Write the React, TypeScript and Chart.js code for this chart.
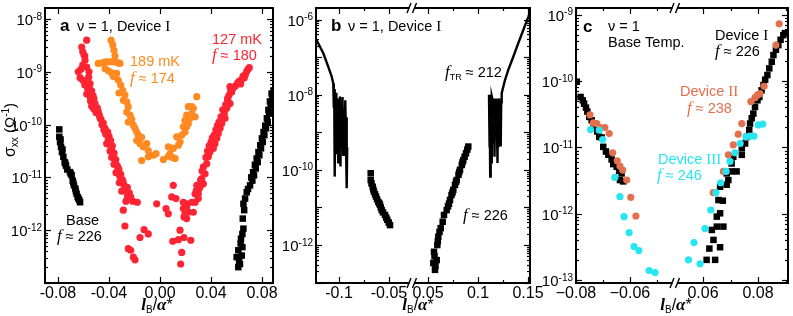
import React, { useEffect, useRef } from 'react';
import { Chart, registerables } from 'chart.js';

Chart.register(...registerables);

const SANS = '"Liberation Sans", Arial, Helvetica, sans-serif';
const SERIF = '"Liberation Serif", "Times New Roman", serif';

const RED = '#ff2433';
const ORANGE = '#ff8a22';
const SALMON = '#e2704f';
const CYAN = '#27e6f2';
const BLACK = '#000000';

// All series: [l_B/a*, log10(sigma_xx / Ohm^-1)]

// ---------- panel a ----------
const aBaseLeft = [
  [-0.0790, -10.09], [-0.0790, -10.23], [-0.0784, -10.33], [-0.0780, -10.28], [-0.0776, -10.42],
  [-0.0769, -10.52], [-0.0765, -10.47], [-0.0758, -10.61], [-0.0748, -10.71], [-0.0742, -10.74],
  [-0.0737, -10.78], [-0.0727, -10.85], [-0.0706, -10.90], [-0.0700, -10.93], [-0.0693, -10.96],
  [-0.0685, -11.06], [-0.0680, -11.10], [-0.0675, -11.15], [-0.0664, -11.21], [-0.0660, -11.26],
  [-0.0654, -11.31], [-0.0646, -11.37], [-0.0640, -11.40], [-0.0633, -11.43], [-0.0627, -11.47],
];
const aBaseRight = [
  [0.0614, -12.70], [0.0627, -12.64], [0.0601, -12.51], [0.0641, -12.48], [0.0614, -12.38],
  [0.0620, -12.58], [0.0646, -12.32], [0.0632, -12.25], [0.0635, -12.16], [0.0646, -12.07],
  [0.0654, -11.97], [0.0649, -11.78], [0.0660, -11.62], [0.0654, -11.50], [0.0667, -11.40],
  [0.0680, -11.28], [0.0690, -11.22], [0.0706, -11.15], [0.0724, -11.06], [0.0715, -11.00],
  [0.0737, -10.96], [0.0730, -10.90], [0.0751, -10.83], [0.0744, -10.76], [0.0766, -10.71],
  [0.0758, -10.64], [0.0779, -10.58], [0.0772, -10.52], [0.0792, -10.45], [0.0786, -10.39],
  [0.0806, -10.33], [0.0799, -10.26], [0.0818, -10.20], [0.0812, -10.14], [0.0831, -10.07],
  [0.0825, -10.02], [0.0845, -9.95], [0.0838, -9.88], [0.0855, -9.79], [0.0850, -9.72],
  [0.0868, -9.63], [0.0862, -9.56], [0.0881, -9.47], [0.0875, -9.41], [0.0892, -9.35],
];
const a127mK = [
  [-0.0575, -8.40], [-0.0614, -8.53], [-0.0606, -8.62], [-0.0596, -8.68], [-0.0590, -8.70],
  [-0.0588, -8.78], [-0.0606, -8.87], [-0.0575, -8.91], [-0.0620, -8.95], [-0.0557, -9.00],
  [-0.0641, -9.00], [-0.0627, -9.11], [-0.0560, -9.10], [-0.0606, -9.16], [-0.0575, -9.19],
  [-0.0549, -9.22], [-0.0590, -9.25], [-0.0555, -9.30], [-0.0567, -9.32], [-0.0536, -9.36],
  [-0.0575, -9.42], [-0.0525, -9.45], [-0.0549, -9.47], [-0.0518, -9.51], [-0.0545, -9.55],
  [-0.0510, -9.60], [-0.0536, -9.65], [-0.0492, -9.68], [-0.0520, -9.70], [-0.0485, -9.75],
  [-0.0502, -9.77], [-0.0476, -9.82], [-0.0470, -9.88], [-0.0463, -9.90], [-0.0445, -9.97],
  [-0.0455, -10.00], [-0.0431, -10.07], [-0.0440, -10.10], [-0.0410, -10.14], [-0.0425, -10.18],
  [-0.0400, -10.22], [-0.0405, -10.28], [-0.0387, -10.30], [-0.0418, -10.36], [-0.0395, -10.38],
  [-0.0374, -10.40], [-0.0380, -10.46], [-0.0392, -10.50], [-0.0361, -10.54], [-0.0370, -10.58],
  [-0.0379, -10.62], [-0.0347, -10.66], [-0.0350, -10.70], [-0.0361, -10.75], [-0.0335, -10.78],
  [-0.0330, -10.82], [-0.0322, -10.85], [-0.0345, -10.91], [-0.0308, -10.94], [-0.0315, -10.98],
  [-0.0296, -11.04], [-0.0290, -11.08], [-0.0319, -11.10], [-0.0282, -11.15], [-0.0256, -11.19],
  [-0.0275, -11.25], [-0.0300, -11.26], [-0.0241, -11.29], [-0.0255, -11.35], [-0.0230, -11.37],
  [-0.0267, -11.45], [-0.0214, -11.45], [-0.0178, -11.47], [-0.0288, -11.62], [-0.0275, -11.92],
  [-0.0125, -11.99], [-0.0157, -12.14], [-0.0092, -12.07], [-0.0249, -12.35], [-0.0230, -12.38],
  [-0.0209, -12.51], [-0.0196, -12.56], [-0.0026, -11.50],
  [0.0047, -11.59], [0.0065, -11.69], [0.0104, -11.15], [0.0092, -11.37], [0.0125, -11.40],
  [0.0157, -12.00], [0.0100, -12.21], [0.0144, -12.18], [0.0188, -12.14], [0.0241, -12.19],
  [0.0170, -12.42], [0.0162, -12.64], [0.0188, -11.75], [0.0209, -11.78], [0.0183, -11.59],
  [0.0183, -11.47], [0.0209, -11.50], [0.0196, -11.69], [0.0209, -11.56], [0.0222, -11.66],
  [0.0261, -11.66], [0.0249, -11.47], [0.0275, -11.47], [0.0275, -11.31], [0.0300, -11.31],
  [0.0300, -11.40], [0.0285, -11.25], [0.0314, -11.18], [0.0288, -11.15], [0.0340, -11.12],
  [0.0305, -11.22], [0.0318, -11.05], [0.0327, -11.02], [0.0353, -10.93], [0.0330, -10.88],
  [0.0340, -10.80], [0.0366, -10.74], [0.0379, -10.61], [0.0360, -10.62], [0.0392, -10.52],
  [0.0372, -10.50], [0.0418, -10.45], [0.0385, -10.40], [0.0431, -10.36], [0.0400, -10.33],
  [0.0445, -10.26], [0.0410, -10.25], [0.0425, -10.20], [0.0457, -10.17], [0.0438, -10.10],
  [0.0471, -10.07], [0.0450, -10.02], [0.0484, -9.98], [0.0462, -9.95], [0.0510, -9.88],
  [0.0478, -9.85], [0.0504, -9.79], [0.0492, -9.72], [0.0523, -9.69], [0.0515, -9.62],
  [0.0549, -9.60], [0.0531, -9.54], [0.0530, -9.50], [0.0541, -9.44], [0.0562, -9.38],
  [0.0555, -9.35], [0.0575, -9.30], [0.0549, -9.28], [0.0590, -9.27], [0.0609, -9.21],
  [0.0620, -9.18], [0.0632, -9.23], [0.0641, -9.14], [0.0661, -9.11], [0.0652, -9.08],
  [0.0670, -9.05], [0.0680, -8.99], [0.0690, -8.95], [0.0700, -8.92],
];
const a189mK = [
  [-0.0384, -8.40], [-0.0371, -8.49], [-0.0361, -8.59], [-0.0353, -8.70],
  [-0.0484, -8.84], [-0.0457, -8.83], [-0.0431, -8.81], [-0.0405, -8.81], [-0.0379, -8.81],
  [-0.0353, -8.81], [-0.0327, -8.83], [-0.0314, -8.84],
  [-0.0431, -8.94], [-0.0405, -8.98], [-0.0379, -9.02], [-0.0340, -9.03], [-0.0366, -9.09],
  [-0.0327, -9.16], [-0.0308, -9.25], [-0.0292, -9.35], [-0.0322, -9.40], [-0.0275, -9.44],
  [-0.0288, -9.54], [-0.0261, -9.57], [-0.0249, -9.66], [-0.0261, -9.76], [-0.0235, -9.82],
  [-0.0222, -9.90], [-0.0249, -9.95], [-0.0209, -10.01], [-0.0196, -10.07], [-0.0183, -10.14],
  [-0.0170, -10.20], [-0.0183, -10.30], [-0.0144, -10.24], [-0.0157, -10.36], [-0.0131, -10.42],
  [-0.0104, -10.36], [-0.0092, -10.49], [-0.0053, -10.58], [-0.0031, -10.55], [-0.0144, -10.68],
  [-0.0092, -10.61], [0.0026, -10.66], [0.0065, -10.60], [0.0092, -10.45], [0.0065, -10.42],
  [0.0078, -10.56], [0.0104, -10.45], [0.0118, -10.64], [0.0096, -10.62], [0.0144, -10.39],
  [0.0157, -10.33], [0.0131, -10.23], [0.0170, -10.20], [0.0196, -10.14], [0.0183, -10.04],
  [0.0209, -10.04], [0.0222, -9.98], [0.0196, -9.92], [0.0235, -9.88], [0.0209, -9.82],
  [0.0249, -9.79], [0.0275, -9.85], [0.0261, -9.69], [0.0222, -9.66], [0.0249, -9.66],
  [0.0288, -9.47],
];

// ---------- panel b ----------
const bTRLeft = [
  [-0.1223, -6.55], [-0.1157, -6.90], [-0.1107, -7.26], [-0.1073, -7.52], [-0.1057, -7.70],
  [-0.1052, -8.35], [-0.1048, -7.85], [-0.1043, -10.18], [-0.1038, -8.00], [-0.1032, -9.10],
  [-0.1027, -7.95], [-0.1020, -9.55], [-0.1014, -8.10], [-0.1008, -9.80], [-0.1003, -8.20],
  [-0.0997, -9.40], [-0.0991, -8.05], [-0.0985, -9.91], [-0.0979, -8.30], [-0.0972, -9.20],
  [-0.0965, -8.06], [-0.0958, -9.60], [-0.0951, -8.40], [-0.0944, -9.00], [-0.0937, -8.15],
  [-0.0929, -9.50], [-0.0925, -8.60], [-0.0921, -10.49], [-0.0918, -9.40],
];
const bTRRight = [
  [0.1110, -8.00], [0.1114, -9.40], [0.1118, -8.10], [0.1122, -10.18], [0.1127, -8.20],
  [0.1133, -9.80], [0.1138, -8.05], [0.1150, -8.20], [0.1155, -9.30], [0.1160, -8.10],
  [0.1165, -9.65], [0.1170, -8.30], [0.1177, -9.00], [0.1185, -8.10], [0.1195, -9.82],
  [0.1200, -8.20], [0.1205, -9.40], [0.1210, -8.10], [0.1222, -8.30], [0.1227, -9.38],
  [0.1232, -8.20], [0.1237, -7.96], [0.1270, -7.61], [0.1303, -7.34], [0.1353, -6.99],
  [0.1403, -6.63], [0.1453, -6.28], [0.1503, -5.93], [0.1540, -5.65],
];
const bBaseLeft = [
  [-0.0683, -10.09], [-0.0683, -10.27], [-0.0675, -10.36], [-0.0663, -10.45], [-0.0657, -10.52],
  [-0.0650, -10.58], [-0.0640, -10.65], [-0.0630, -10.71], [-0.0620, -10.78], [-0.0607, -10.85],
  [-0.0598, -10.89], [-0.0590, -10.93], [-0.0582, -11.00], [-0.0573, -11.07], [-0.0560, -11.13],
  [-0.0540, -11.20], [-0.0528, -11.27], [-0.0517, -11.33], [-0.0503, -11.40], [-0.0490, -11.47],
];
const bBaseRight = [
  [0.0570, -12.66], [0.0575, -12.55], [0.0553, -12.48], [0.0587, -12.40], [0.0565, -12.30],
  [0.0560, -12.18], [0.0593, -12.00], [0.0598, -11.90], [0.0603, -11.78], [0.0615, -11.65],
  [0.0627, -11.55], [0.0647, -11.38], [0.0660, -11.20], [0.0687, -11.07], [0.0700, -10.97],
  [0.0710, -10.90], [0.0720, -10.80], [0.0735, -10.67], [0.0745, -10.60], [0.0753, -10.53],
  [0.0770, -10.40], [0.0780, -10.32], [0.0787, -10.27], [0.0805, -10.13], [0.0812, -10.06],
  [0.0820, -10.00], [0.0838, -9.87], [0.0845, -9.80], [0.0853, -9.74], [0.0866, -9.65],
  [0.0880, -9.56], [0.0893, -9.46], [0.0903, -9.38],
];

// ---------- panel c ----------
const cDevILeft = [
  [-0.0797, -10.01], [-0.0783, -10.24], [-0.0775, -10.29], [-0.0770, -10.34], [-0.0763, -10.40],
  [-0.0758, -10.46], [-0.0751, -10.54], [-0.0742, -10.59], [-0.0736, -10.65], [-0.0730, -10.69],
  [-0.0721, -10.76], [-0.0714, -10.84], [-0.0705, -10.85], [-0.0699, -10.99], [-0.0689, -11.06],
  [-0.0680, -11.11], [-0.0668, -11.18], [-0.0662, -11.25], [-0.0649, -11.29], [-0.0640, -11.35],
  [-0.0631, -11.39], [-0.0637, -11.49], [-0.0625, -11.51],
];
const cDevIRight = [
  [0.0613, -12.69], [0.0644, -12.69], [0.0623, -12.52], [0.0662, -12.50], [0.0638, -12.39],
  [0.0632, -12.24], [0.0650, -12.19], [0.0674, -12.19], [0.0650, -12.04], [0.0662, -11.99],
  [0.0656, -11.79], [0.0672, -11.80], [0.0662, -11.59], [0.0686, -11.56], [0.0692, -11.49],
  [0.0686, -11.39], [0.0704, -11.36], [0.0722, -11.36], [0.0704, -11.24], [0.0710, -11.14],
  [0.0741, -11.11], [0.0741, -11.01], [0.0753, -10.94], [0.0759, -10.84], [0.0768, -10.74],
  [0.0771, -10.64], [0.0777, -10.56], [0.0783, -10.49], [0.0789, -10.39], [0.0798, -10.29],
  [0.0805, -10.24], [0.0813, -10.14], [0.0820, -10.06], [0.0826, -9.98], [0.0834, -9.91],
  [0.0841, -9.81], [0.0850, -9.71], [0.0856, -9.61], [0.0865, -9.53], [0.0874, -9.46],
  [0.0882, -9.38], [0.0892, -9.31], [0.0898, -9.28],
];
const cDevIILeft = [
  [-0.0748, -10.51], [-0.0736, -10.63], [-0.0723, -10.64], [-0.0709, -10.70], [-0.0693, -10.70],
  [-0.0677, -10.79], [-0.0664, -11.08], [-0.0647, -11.20], [-0.0637, -11.28], [-0.0627, -11.34],
  [-0.0612, -11.49], [-0.0597, -11.75], [-0.0578, -12.03],
];
const cDevIIRight = [
  [0.0637, -11.68], [0.0674, -11.36], [0.0692, -11.11], [0.0710, -10.96], [0.0728, -10.80],
  [0.0741, -10.64], [0.0774, -10.31], [0.0789, -10.25], [0.0798, -10.21], [0.0807, -10.19],
  [0.0822, -10.08], [0.0865, -9.46], [0.0877, -9.14],
];
const cDevIIILeft = [
  [-0.0746, -10.73], [-0.0714, -10.74], [-0.0701, -10.88], [-0.0656, -11.45], [-0.0637, -11.74],
  [-0.0622, -12.04], [-0.0603, -12.28], [-0.0585, -12.49], [-0.0567, -12.55], [-0.0529, -12.85],
  [-0.0507, -12.88],
];
const cDevIIIRight = [
  [0.0547, -12.69], [0.0589, -12.75], [0.0567, -12.43], [0.0607, -12.22], [0.0628, -11.94],
  [0.0647, -11.68], [0.0664, -11.53], [0.0684, -11.36], [0.0698, -11.21], [0.0716, -11.08],
  [0.0735, -10.94], [0.0756, -10.84], [0.0771, -10.83], [0.0785, -10.83], [0.0801, -10.66],
  [0.0817, -10.65],
];

// ---------- ticks ----------
const aXTicks = [-0.08, -0.04, 0, 0.04, 0.08];
const aXTickLabels = ['-0.08', '-0.04', '0.00', '0.04', '0.08'];
const aYTickExps = [-8, -9, -10, -11, -12];

const bXTicksL = [-0.1, -0.05];
const bXTickLabelsL = ['-0.1', '-0.05'];
const bXMinorL = [-0.075];
const bXTicksR = [0.05, 0.1, 0.15];
const bXTickLabelsR = ['0.05', '0.1', '0.15'];
const bXMinorR = [0.075, 0.125];
const bYTickExps = [-6, -8, -10, -12];

const cXTicksL = [-0.08, -0.06];
const cXTickLabelsL = ['\u22120.08', '\u22120.06'];
const cXMinorL = [-0.07, -0.05];
const cXTicksR = [0.06, 0.08];
const cXTickLabelsR = ['0.06', '0.08'];
const cXMinorR = [0.07, 0.09];
const cYTickExps = [-9, -10, -11, -12, -13];

// ---------- drawing helpers ----------
type Run = { t: string; f: string; dy?: number };
type TextLine = { x: number; y: number; color: string; runs: Run[] };
type Seg = { id: string; major: number[]; labels: string[]; minor: number[] };
type Spec = { segs: Seg[]; yExps: number[]; yTitle: boolean; xTitleX: number; texts: TextLine[] };

const F_ANN = `14.5px ${SANS}`;
const F_F = `italic 17px ${SERIF}`;
const F_ROMAN = `15px ${SERIF}`;
const F_BOLD = `bold 17px ${SANS}`;

function drawRuns(ctx: CanvasRenderingContext2D, runs: Run[], x: number, y: number, align: string, color: string) {
  ctx.save();
  ctx.textAlign = 'left';
  ctx.textBaseline = 'alphabetic';
  ctx.fillStyle = color;
  let w = 0;
  for (const r of runs) {
    ctx.font = r.f;
    w += ctx.measureText(r.t).width;
  }
  let cx = align === 'left' ? x : align === 'center' ? x - w / 2 : x - w;
  for (const r of runs) {
    ctx.font = r.f;
    ctx.fillText(r.t, cx, y + (r.dy || 0));
    cx += ctx.measureText(r.t).width;
  }
  ctx.restore();
}

function drawBreak(ctx: CanvasRenderingContext2D, x: number, y: number) {
  ctx.save();
  ctx.fillStyle = '#fff';
  ctx.fillRect(x - 2.5, y - 2, 5, 4);
  ctx.strokeStyle = '#000';
  ctx.lineWidth = 1.4;
  ctx.beginPath();
  ctx.moveTo(x - 5, y + 5);
  ctx.lineTo(x - 1, y - 5);
  ctx.moveTo(x + 0.5, y + 5);
  ctx.lineTo(x + 4.5, y - 5);
  ctx.stroke();
  ctx.restore();
}

function makeDecor(spec: Spec) {
  return {
    id: 'decor',
    afterDraw(chart: any) {
      const ctx: CanvasRenderingContext2D = chart.ctx;
      const ca = chart.chartArea;
      const ys = chart.scales.y;
      ctx.save();
      ctx.strokeStyle = '#000';
      ctx.lineWidth = 1.2;
      const line = (x1: number, y1: number, x2: number, y2: number) => {
        ctx.beginPath();
        ctx.moveTo(x1, y1);
        ctx.lineTo(x2, y2);
        ctx.stroke();
      };
      // y ticks (major + minor), inward on both sides
      const lo = Math.log10(ys.min);
      const hi = Math.log10(ys.max);
      for (let d = Math.floor(lo); d <= Math.ceil(hi); d++) {
        for (let m = 1; m <= 9; m++) {
          const v = m * Math.pow(10, d);
          const lv = Math.log10(v);
          if (lv < lo - 1e-6 || lv > hi + 1e-6) continue;
          const py = Math.round(ys.getPixelForValue(v)) + 0.5;
          const len = m === 1 ? 6 : 3;
          line(ca.left, py, ca.left + len, py);
          line(ca.right, py, ca.right - len, py);
        }
      }
      // x ticks + labels
      for (const s of spec.segs) {
        const xs = chart.scales[s.id];
        const tick = (v: number, len: number) => {
          const px = Math.round(xs.getPixelForValue(v)) + 0.5;
          line(px, ca.bottom, px, ca.bottom - len);
          line(px, ca.top, px, ca.top + len);
        };
        s.major.forEach((v) => tick(v, 6));
        s.minor.forEach((v) => tick(v, 3));
        ctx.fillStyle = '#000';
        ctx.font = `16px ${SANS}`;
        ctx.textAlign = 'center';
        ctx.textBaseline = 'alphabetic';
        s.major.forEach((v, i) => ctx.fillText(s.labels[i], xs.getPixelForValue(v), 298));
      }
      // frame
      ctx.lineWidth = 2;
      ctx.strokeRect(ca.left, ca.top, ca.right - ca.left, ca.bottom - ca.top);
      if (spec.segs.length > 1) {
        const bx = chart.scales[spec.segs[0].id].right;
        drawBreak(ctx, bx, ca.top);
        drawBreak(ctx, bx, ca.bottom);
      }
      // y tick labels 10^n
      for (const e of spec.yExps) {
        const py = ys.getPixelForValue(Math.pow(10, e));
        drawRuns(ctx, [
          { t: '10', f: `15px ${SANS}`, dy: 6 },
          { t: String(e), f: `10px ${SANS}`, dy: 0.5 },
        ], ca.left - 3, py, 'right', '#000');
      }
      // x title
      drawRuns(ctx, [
        { t: 'l', f: `italic bold 17px ${SERIF}` },
        { t: 'B', f: `10px ${SANS}`, dy: 3 },
        { t: '/', f: `16px ${SANS}` },
        { t: '\u03B1', f: `italic bold 17px ${SERIF}` },
        { t: '*', f: `16px ${SANS}` },
      ], spec.xTitleX, 310, 'center', '#000');
      // y title
      if (spec.yTitle) {
        ctx.save();
        ctx.translate(15, 130);
        ctx.rotate(-Math.PI / 2);
        drawRuns(ctx, [
          { t: '\u03C3', f: `16px ${SANS}` },
          { t: 'xx', f: `10px ${SANS}`, dy: 3 },
          { t: ' (\u03A9', f: `15px ${SANS}` },
          { t: '-1', f: `10px ${SANS}`, dy: -6 },
          { t: ')', f: `15px ${SANS}` },
        ], 0, 0, 'center', '#000');
        ctx.restore();
      }
      // annotations
      for (const tl of spec.texts) drawRuns(ctx, tl.runs, tl.x, tl.y, 'left', tl.color);
      ctx.restore();
    },
  };
}

const pts = (arr: number[][]) => arr.map(([x, ly]) => ({ x, y: Math.pow(10, ly) }));
const squares = (arr: number[][], xAxisID: string) => ({
  data: pts(arr), xAxisID, yAxisID: 'y', showLine: false, pointStyle: 'rect', pointRadius: 4.6,
  pointHoverRadius: 4.6, pointBackgroundColor: BLACK, backgroundColor: BLACK, pointBorderWidth: 0, borderWidth: 0,
});
const circles = (arr: number[][], color: string, xAxisID: string) => ({
  data: pts(arr), xAxisID, yAxisID: 'y', showLine: false, pointStyle: 'circle', pointRadius: 3.6,
  pointHoverRadius: 3.6, pointBackgroundColor: color, backgroundColor: color, pointBorderWidth: 0, borderWidth: 0,
});
const trace = (arr: number[][], xAxisID: string) => ({
  data: pts(arr), xAxisID, yAxisID: 'y', showLine: true, pointRadius: 0, pointHoverRadius: 0,
  borderColor: BLACK, borderWidth: 2.4, fill: false, tension: 0,
});

const hidden = { display: false };

function baseOptions(padding: any, scales: any) {
  return {
    responsive: false,
    animation: false,
    events: [],
    devicePixelRatio: 1,
    layout: { padding },
    plugins: { legend: { display: false }, tooltip: { enabled: false }, title: { display: false } },
    scales,
  };
}

function configA() {
  const spec: Spec = {
    segs: [{ id: 'x', major: aXTicks, labels: aXTickLabels, minor: [] }],
    yExps: aYTickExps,
    yTitle: true,
    xTitleX: 157,
    texts: [
      { x: 60, y: 31, color: BLACK, runs: [{ t: 'a', f: F_BOLD }] },
      { x: 77, y: 31, color: BLACK, runs: [{ t: '\u03BD = 1, Device ', f: F_ANN }, { t: 'I', f: F_ROMAN }] },
      { x: 212, y: 43.5, color: RED, runs: [{ t: '127 mK', f: F_ANN }] },
      { x: 212, y: 60, color: RED, runs: [{ t: 'f', f: F_F }, { t: ' \u2248 180', f: F_ANN }] },
      { x: 130, y: 66, color: ORANGE, runs: [{ t: '189 mK', f: F_ANN }] },
      { x: 130, y: 82.5, color: ORANGE, runs: [{ t: 'f', f: F_F }, { t: ' \u2248 174', f: F_ANN }] },
      { x: 66, y: 225, color: BLACK, runs: [{ t: 'Base', f: F_ANN }] },
      { x: 57, y: 240.5, color: BLACK, runs: [{ t: 'f', f: F_F }, { t: ' \u2248 226', f: F_ANN }] },
    ],
  };
  return {
    type: 'scatter',
    data: {
      datasets: [
        circles(a127mK, RED, 'x'),
        circles(a189mK, ORANGE, 'x'),
        squares(aBaseLeft, 'x'),
        squares(aBaseRight, 'x'),
      ],
    },
    options: baseOptions({ left: 45, right: 520, top: 8, bottom: 33 }, {
      x: { ...hidden, type: 'linear', axis: 'x', position: 'bottom', min: -0.0902, max: 0.0886 },
      y: { ...hidden, type: 'logarithmic', axis: 'y', position: 'left', min: 1e-13, max: Math.pow(10, -7.79) },
    }),
    plugins: [makeDecor(spec)],
  };
}

function configB() {
  const spec: Spec = {
    segs: [
      { id: 'xL', major: bXTicksL, labels: bXTickLabelsL, minor: bXMinorL },
      { id: 'xR', major: bXTicksR, labels: bXTickLabelsR, minor: bXMinorR },
    ],
    yExps: bYTickExps,
    yTitle: false,
    xTitleX: 418,
    texts: [
      { x: 331, y: 31, color: BLACK, runs: [{ t: 'b', f: F_BOLD }] },
      { x: 348, y: 31, color: BLACK, runs: [{ t: '\u03BD = 1, Device ', f: F_ANN }, { t: 'I', f: F_ROMAN }] },
      { x: 445, y: 77, color: BLACK, runs: [{ t: 'f', f: F_F }, { t: 'TR', f: `9px ${SANS}`, dy: 3 }, { t: ' \u2248 212', f: F_ANN }] },
      { x: 463, y: 220, color: BLACK, runs: [{ t: 'f', f: F_F }, { t: ' \u2248 226', f: F_ANN }] },
    ],
  };
  return {
    type: 'scatter',
    data: {
      datasets: [
        squares(bBaseLeft, 'xL'),
        squares(bBaseRight, 'xR'),
        trace(bTRLeft, 'xL'),
        trace(bTRRight, 'xR'),
      ],
    },
    options: baseOptions({ left: 316, right: 263, top: 8, bottom: 33 }, {
      xL: { ...hidden, type: 'linear', axis: 'x', position: 'bottom', stack: 'bx', stackWeight: 96, min: -0.123, max: -0.027 },
      xR: { ...hidden, type: 'linear', axis: 'x', position: 'bottom', stack: 'bx', stackWeight: 118, min: 0.034, max: 0.152 },
      y: { ...hidden, type: 'logarithmic', axis: 'y', position: 'left', min: Math.pow(10, -13.01), max: Math.pow(10, -5.694) },
    }),
    plugins: [makeDecor(spec)],
  };
}

function configC() {
  const spec: Spec = {
    segs: [
      { id: 'xL', major: cXTicksL, labels: cXTickLabelsL, minor: cXMinorL },
      { id: 'xR', major: cXTicksR, labels: cXTickLabelsR, minor: cXMinorR },
    ],
    yExps: cYTickExps,
    yTitle: false,
    xTitleX: 676,
    texts: [
      { x: 583, y: 31.5, color: BLACK, runs: [{ t: 'c', f: F_BOLD }] },
      { x: 608, y: 31, color: BLACK, runs: [{ t: '\u03BD = 1', f: F_ANN }] },
      { x: 608, y: 46.5, color: BLACK, runs: [{ t: 'Base Temp.', f: F_ANN }] },
      { x: 715, y: 39.5, color: BLACK, runs: [{ t: 'Device ', f: F_ANN }, { t: 'I', f: F_ROMAN }] },
      { x: 715, y: 56, color: BLACK, runs: [{ t: 'f', f: F_F }, { t: ' \u2248 226', f: F_ANN }] },
      { x: 680, y: 95.5, color: SALMON, runs: [{ t: 'Device ', f: F_ANN }, { t: 'II', f: F_ROMAN }] },
      { x: 687, y: 112.5, color: SALMON, runs: [{ t: 'f', f: F_F }, { t: ' \u2248 238', f: F_ANN }] },
      { x: 658, y: 163.5, color: CYAN, runs: [{ t: 'Device ', f: F_ANN }, { t: 'III', f: F_ROMAN }] },
      { x: 657, y: 179.5, color: CYAN, runs: [{ t: 'f', f: F_F }, { t: ' \u2248 246', f: F_ANN }] },
    ],
  };
  return {
    type: 'scatter',
    data: {
      datasets: [
        circles(cDevIIILeft, CYAN, 'xL'),
        circles(cDevIIIRight, CYAN, 'xR'),
        circles(cDevIILeft, SALMON, 'xL'),
        circles(cDevIIRight, SALMON, 'xR'),
        squares(cDevILeft, 'xL'),
        squares(cDevIRight, 'xR'),
      ],
    },
    options: baseOptions({ left: 576, right: 5, top: 8, bottom: 33 }, {
      xL: { ...hidden, type: 'linear', axis: 'x', position: 'bottom', stack: 'cx', stackWeight: 99, min: -0.08, max: -0.0433 },
      xR: { ...hidden, type: 'linear', axis: 'x', position: 'bottom', stack: 'cx', stackWeight: 113, min: 0.0498, max: 0.0909 },
      y: { ...hidden, type: 'logarithmic', axis: 'y', position: 'left', min: Math.pow(10, -13.038), max: Math.pow(10, -8.902) },
    }),
    plugins: [makeDecor(spec)],
  };
}

function Panel({ make }: { make: () => any }) {
  const ref = useRef<HTMLCanvasElement | null>(null);
  useEffect(() => {
    if (!ref.current) return;
    const chart = new Chart(ref.current, make());
    return () => chart.destroy();
  }, [make]);
  return (
    <canvas
      ref={ref}
      width={793}
      height={316}
      style={{ position: 'absolute', left: 0, top: 0, width: 793, height: 316 }}
    />
  );
}

export default function App() {
  return (
    <div style={{ position: 'fixed', left: 0, top: 0, width: 793, height: 316, background: '#fff', overflow: 'hidden' }}>
      <Panel make={configA} />
      <Panel make={configB} />
      <Panel make={configC} />
    </div>
  );
}
